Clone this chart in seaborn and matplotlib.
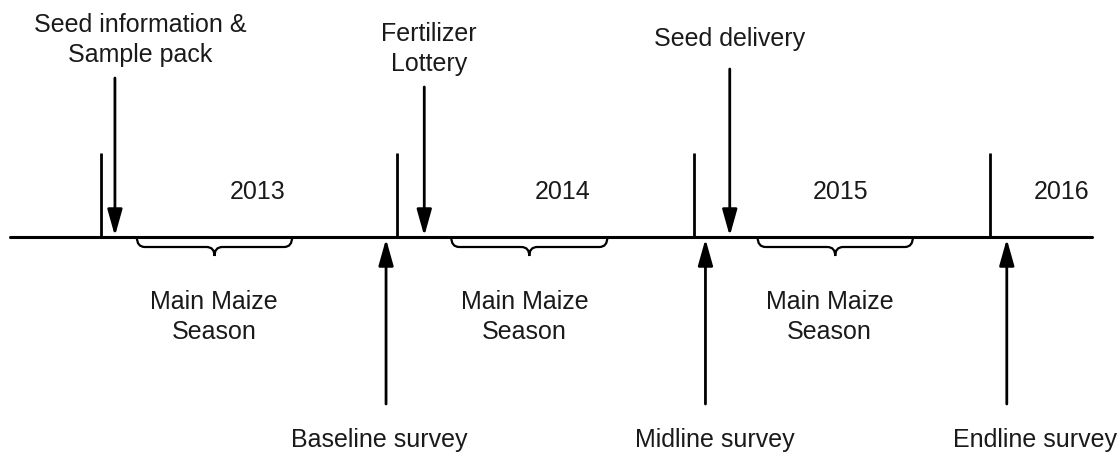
import matplotlib
matplotlib.use("Agg")
import matplotlib.pyplot as plt
import numpy as np
import pandas as pd
import seaborn as sns
from matplotlib.path import Path
from matplotlib.patches import PathPatch

# timeline data, x in fractional years
timeline_span = [2012.693, 2016.345]
year_starts = [2013, 2014, 2015, 2016]
year_labels = ["2013", "2014", "2015", "2016"]
year_label_x = [2013.53, 2014.557, 2015.497, 2016.243]

top_events = ["Seed information &\nSample pack", "Fertilizer\nLottery", "Seed delivery"]
top_event_x = [2013.047, 2014.091, 2015.122]
top_label_x = [2013.132, 2014.108, 2015.122]

bottom_events = ["Baseline survey", "Midline survey", "Endline survey"]
bottom_event_x = [2013.962, 2015.040, 2016.057]
bottom_label_x = [2013.938, 2015.071, 2016.152]

season_start = [2013.121, 2014.182, 2015.216]
season_end = [2013.645, 2014.709, 2015.740]
season_label_x = [2013.381, 2014.429, 2015.459]
season_label = "Main Maize\nSeason"

sns.set_theme(style="white")
plt.rcParams["font.family"] = ["Liberation Sans", "DejaVu Sans"]

LINE_Y = 237
FS = 18
TXT = "#1a1a1a"

fig = plt.figure(figsize=(11.2, 4.55), dpi=100)
ax = fig.add_axes([0, 0, 1, 1])
px = 296.3
ax.set_xlim(2013 - 101 / px, 2013 + (1120 - 101) / px)
ax.set_ylim(455, 0)
ax.axis("off")

# main line
line_df = pd.DataFrame({"x": timeline_span, "y": [LINE_Y, LINE_Y]})
sns.lineplot(data=line_df, x="x", y="y", ax=ax, color="black", lw=2.2)

# year boundaries
ax.vlines(year_starts, 153, LINE_Y, color="black", lw=2)
for x, lab in zip(year_label_x, year_labels):
    ax.text(x, 192, lab, ha="center", va="center", fontsize=FS, color=TXT)

arrow = dict(arrowstyle="-|>,head_length=1.6,head_width=0.45", color="black",
             lw=2, mutation_scale=10, shrinkA=0, shrinkB=0)

# events above the line
top_tail = [78, 87, 69]
top_text_y = [40, 49, 39]
for x, lx, lab, ty, tt in zip(top_event_x, top_label_x, top_events, top_text_y, top_tail):
    ax.annotate("", xy=(x, LINE_Y - 1), xytext=(x, tt), arrowprops=arrow)
    ax.text(lx, ty, lab, ha="center", va="center", fontsize=FS, linespacing=1.3, color=TXT)

# events below the line
for x, lx, lab in zip(bottom_event_x, bottom_label_x, bottom_events):
    ax.annotate("", xy=(x, LINE_Y + 2), xytext=(x, 404), arrowprops=arrow)
    ax.text(lx, 440, lab, ha="center", va="center", fontsize=FS, color=TXT)

# season braces
r = 8 / px
for x0, x1, lx in zip(season_start, season_end, season_label_x):
    xm = (x0 + x1) / 2
    yb, yt = 247, 256
    verts = [(x0, LINE_Y), (x0, yb), (x0 + r, yb),
             (xm - r, yb),
             (xm, yb), (xm, yt),
             (xm, yb), (xm + r, yb),
             (x1 - r, yb),
             (x1, yb), (x1, LINE_Y)]
    codes = [Path.MOVETO, Path.CURVE3, Path.CURVE3,
             Path.LINETO,
             Path.CURVE3, Path.CURVE3,
             Path.CURVE3, Path.CURVE3,
             Path.LINETO,
             Path.CURVE3, Path.CURVE3]
    ax.add_patch(PathPatch(Path(verts, codes), fill=False, lw=1.6, edgecolor="black"))
    ax.text(lx, 317, season_label, ha="center", va="center", fontsize=FS,
            linespacing=1.3, color=TXT)

fig.savefig("out.png", dpi=100)
